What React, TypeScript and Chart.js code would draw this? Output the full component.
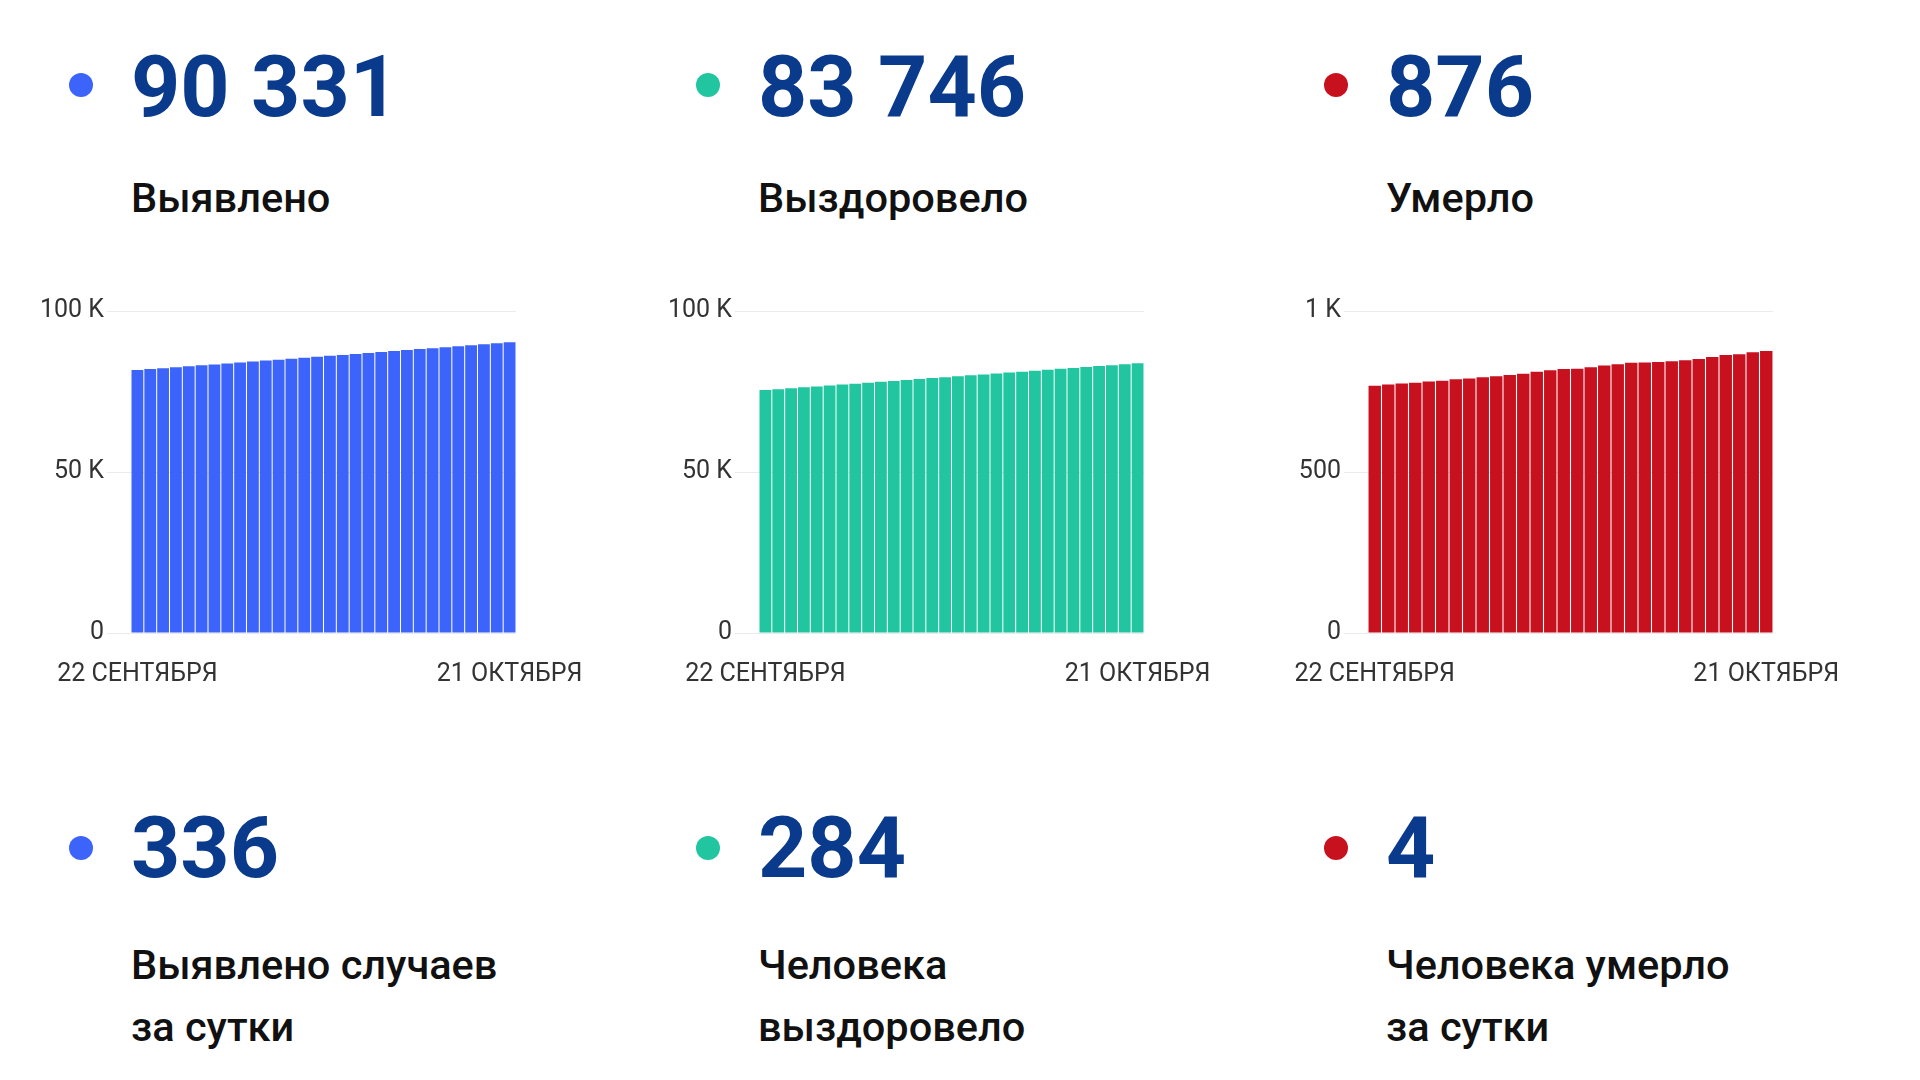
import React, { useEffect, useRef } from 'react';
import { Chart, registerables } from 'chart.js';

Chart.register(...registerables);

const dates = [
  '22 СЕНТЯБРЯ', '23 СЕНТЯБРЯ', '24 СЕНТЯБРЯ', '25 СЕНТЯБРЯ', '26 СЕНТЯБРЯ',
  '27 СЕНТЯБРЯ', '28 СЕНТЯБРЯ', '29 СЕНТЯБРЯ', '30 СЕНТЯБРЯ', '1 ОКТЯБРЯ',
  '2 ОКТЯБРЯ', '3 ОКТЯБРЯ', '4 ОКТЯБРЯ', '5 ОКТЯБРЯ', '6 ОКТЯБРЯ',
  '7 ОКТЯБРЯ', '8 ОКТЯБРЯ', '9 ОКТЯБРЯ', '10 ОКТЯБРЯ', '11 ОКТЯБРЯ',
  '12 ОКТЯБРЯ', '13 ОКТЯБРЯ', '14 ОКТЯБРЯ', '15 ОКТЯБРЯ', '16 ОКТЯБРЯ',
  '17 ОКТЯБРЯ', '18 ОКТЯБРЯ', '19 ОКТЯБРЯ', '20 ОКТЯБРЯ', '21 ОКТЯБРЯ',
];

const detected = [
  81660, 81955, 82248, 82540, 82835, 83128, 83420, 83714, 84010, 84305,
  84600, 84896, 85190, 85489, 85785, 86080, 86372, 86671, 86968, 87262,
  87560, 87858, 88160, 88459, 88763, 89065, 89372, 89680, 89995, 90331,
];

const recovered = [
  75430, 75713, 76000, 76288, 76575, 76860, 77148, 77436, 77722, 78010,
  78296, 78583, 78870, 79158, 79444, 79731, 80020, 80305, 80594, 80880,
  81170, 81455, 81742, 82030, 82318, 82601, 82890, 83175, 83462, 83746,
];

const deaths = [
  768, 772, 775, 777, 781, 783, 788, 790, 794, 797,
  801, 805, 811, 816, 820, 821, 825, 831, 835, 839,
  840, 842, 844, 847, 851, 857, 863, 866, 872, 876,
];

const yTicksThousands = ['0', '50 K', '100 K'];
const yTicksDeaths = ['0', '500', '1 K'];

const totalLabels = ['Выявлено', 'Выздоровело', 'Умерло'];
const dailyLabels = [
  ['Выявлено случаев', 'за сутки'],
  ['Человека', 'выздоровело'],
  ['Человека умерло', 'за сутки'],
];

const COLORS = ['#3d64fa', '#21c6a0', '#c8111f'];
const NAVY = '#0a3a8c';
const FONT = 'Roboto, "Noto Sans", sans-serif';

function fmt(n: number): string {
  return String(n).replace(/\B(?=(\d{3})+(?!\d))/g, ' ');
}

type BarProps = {
  values: number[];
  color: string;
  max: number;
  step: number;
  tickLabels: string[];
  left: number;
  yWidth: number;
};

function BarChart({ values, color, max, step, tickLabels, left, yWidth }: BarProps) {
  const ref = useRef<HTMLCanvasElement | null>(null);
  useEffect(() => {
    const chart = new Chart(ref.current as HTMLCanvasElement, {
      type: 'bar',
      data: {
        labels: dates,
        datasets: [
          {
            data: values,
            backgroundColor: color,
            borderWidth: 0,
            barPercentage: 0.92,
            categoryPercentage: 1,
          },
        ],
      },
      options: {
        animation: false,
        responsive: false,
        maintainAspectRatio: false,
        layout: { padding: { top: 30, right: 80, left: 0, bottom: 0 } },
        plugins: { legend: { display: false }, tooltip: { enabled: false } },
        scales: {
          x: {
            grid: { display: false, drawTicks: false },
            border: { display: false },
            ticks: {
              autoSkip: false,
              maxRotation: 0,
              minRotation: 0,
              padding: 0,
              color: '#333333',
              font: { family: FONT, size: 25, lineHeight: '84px' },
              callback: (_v: any, i: number) =>
                i === 0 || i === dates.length - 1 ? dates[i] : '',
            },
            afterFit: (s: any) => {
              s.height = 60;
            },
          },
          y: {
            min: 0,
            max,
            grid: { color: '#ebebeb', lineWidth: 1, tickLength: 24, drawTicks: true },
            border: { display: false },
            ticks: {
              stepSize: step,
              padding: 3,
              color: '#333333',
              font: { family: FONT, size: 25 },
              callback: (_v: any, i: number) => tickLabels[i],
            },
            afterFit: (s: any) => {
              s.width = yWidth;
            },
          },
        },
      },
    });
    return () => chart.destroy();
  }, []);
  return (
    <canvas
      ref={ref}
      width={577}
      height={412}
      style={{ position: 'absolute', left, top: 281, width: 577, height: 412 }}
    />
  );
}

function Dot({ x, y, color }: { x: number; y: number; color: string }) {
  return (
    <div
      style={{
        position: 'absolute',
        left: x - 12,
        top: y - 12,
        width: 24,
        height: 24,
        borderRadius: '50%',
        background: color,
      }}
    />
  );
}

function BigNumber({ x, top, text }: { x: number; top: number; text: string }) {
  return (
    <div
      style={{
        position: 'absolute',
        left: x,
        top,
        fontFamily: FONT,
        fontWeight: 700,
        fontSize: 86,
        lineHeight: '86px',
        color: NAVY,
        whiteSpace: 'nowrap',
      }}
    >
      {text}
    </div>
  );
}

function Label({ x, top, lines }: { x: number; top: number; lines: string[] }) {
  return (
    <div
      style={{
        position: 'absolute',
        left: x,
        top,
        fontFamily: FONT,
        fontWeight: 500,
        fontSize: 41.5,
        lineHeight: '62px',
        color: '#111111',
        whiteSpace: 'nowrap',
      }}
    >
      {lines.map((l, i) => (
        <div key={i}>{l}</div>
      ))}
    </div>
  );
}

export default function App() {
  const series = [detected, recovered, deaths];
  const textX = [131, 758, 1386];
  const dotX = [81, 708, 1336];
  const chartLeft = [19, 647, 1276];
  const yWidths = [112, 112, 92];
  const maxes = [100000, 100000, 1000];
  const steps = [50000, 50000, 500];
  const tickSets = [yTicksThousands, yTicksThousands, yTicksDeaths];

  return (
    <div
      style={{
        position: 'absolute',
        left: 0,
        top: 0,
        width: 1920,
        height: 1080,
        background: '#ffffff',
        overflow: 'hidden',
      }}
    >
      {series.map((s, i) => {
        const last = s[s.length - 1];
        const daily = last - s[s.length - 2];
        return (
          <React.Fragment key={i}>
            <Dot x={dotX[i]} y={85} color={COLORS[i]} />
            <BigNumber x={textX[i]} top={43.5} text={fmt(last)} />
            <Label x={textX[i]} top={167} lines={[totalLabels[i]]} />
            <BarChart
              values={s}
              color={COLORS[i]}
              max={maxes[i]}
              step={steps[i]}
              tickLabels={tickSets[i]}
              left={chartLeft[i]}
              yWidth={yWidths[i]}
            />
            <Dot x={dotX[i]} y={848} color={COLORS[i]} />
            <BigNumber x={textX[i]} top={804.5} text={fmt(daily)} />
            <Label x={textX[i]} top={933.5} lines={dailyLabels[i]} />
          </React.Fragment>
        );
      })}
    </div>
  );
}
